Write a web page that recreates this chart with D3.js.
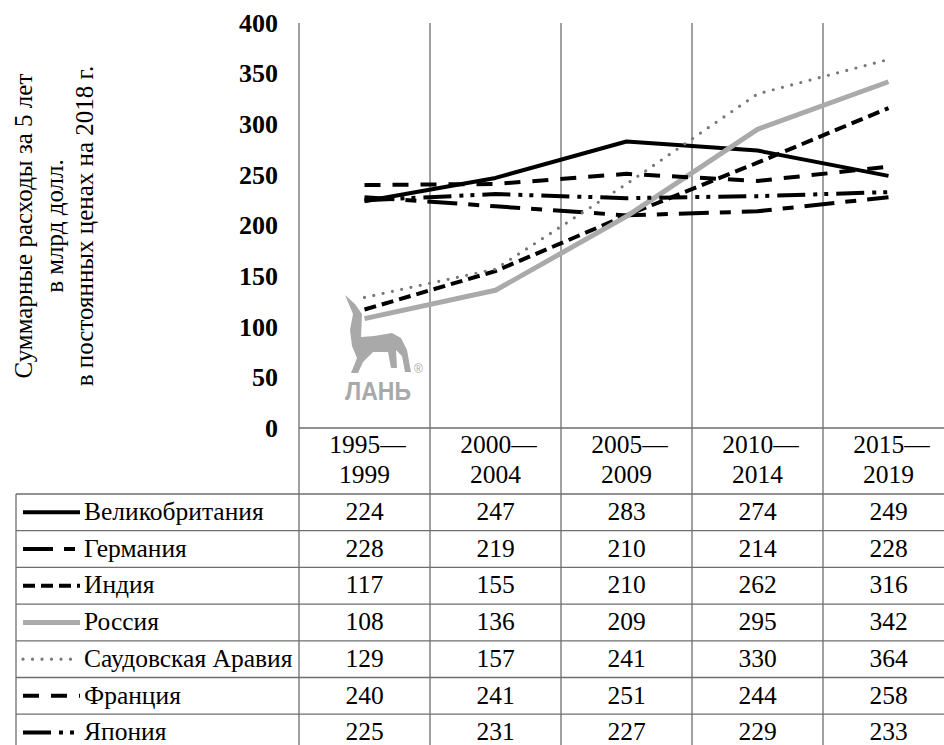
<!DOCTYPE html>
<html>
<head>
<meta charset="utf-8">
<script src="https://cdn.jsdelivr.net/npm/d3@7"></script>
<style>
  body { margin: 0; background: #fff; }
  svg text { font-family: "Liberation Serif", "Times New Roman", serif; }
</style>
</head>
<body>
<div class="chart"></div>
<script>
var svgWidth = 944;
var svgHeight = 745;

// data
var categories = ["1995—1999", "2000—2004", "2005—2009", "2010—2014", "2015—2019"];
var yTicks = [0, 50, 100, 150, 200, 250, 300, 350, 400];
var countryNames = ["Великобритания", "Германия", "Индия", "Россия", "Саудовская Аравия", "Франция", "Япония"];
var ukValues = [224, 247, 283, 274, 249];
var germanyValues = [228, 219, 210, 214, 228];
var indiaValues = [117, 155, 210, 262, 316];
var russiaValues = [108, 136, 209, 295, 342];
var saudiValues = [129, 157, 241, 330, 364];
var franceValues = [240, 241, 251, 244, 258];
var japanValues = [225, 231, 227, 229, 233];

var seriesValues = [ukValues, germanyValues, indiaValues, russiaValues, saudiValues, franceValues, japanValues];

// line styles per country
var styles = [
  { color: "#000", width: 4, dash: null, cap: "butt" },
  { color: "#000", width: 4, dash: "30,11,11,11", cap: "butt" },
  { color: "#000", width: 4, dash: "12,6", cap: "butt" },
  { color: "#aaa", width: 5, dash: null, cap: "butt" },
  { color: "#777", width: 3.2, dash: "0,9.5", cap: "round" },
  { color: "#000", width: 4, dash: "16,12", cap: "butt" },
  { color: "#000", width: 4, dash: "28,8,4,7,4,8", cap: "butt" }
];

var series = countryNames.map(function(name, i) {
  return { name: name, values: seriesValues[i], style: styles[i] };
});

var plotLeft = 299, plotRight = 954, plotTop = 23, plotBottom = 428;
var tableTop = 494, rowH = 36.7, tableLeft = 16;
var serif = "Liberation Serif, Times New Roman, serif";
var fs = 25.5;

var svg = d3.select(".chart")
  .append("svg")
  .attr("width", svgWidth)
  .attr("height", svgHeight)
  .attr("font-family", serif);

var xScale = d3.scaleBand()
  .domain(categories)
  .range([plotLeft, plotRight]);

var yScale = d3.scaleLinear()
  .domain([0, 400])
  .range([plotBottom, plotTop]);

var gridColor = "#6e6e6e";

// vertical grid / table column lines
var colEdges = categories.map(function(c) { return xScale(c); });
svg.append("g").selectAll("line")
  .data(colEdges)
  .enter()
  .append("line")
  .attr("x1", d => d).attr("x2", d => d)
  .attr("y1", plotTop).attr("y2", svgHeight)
  .attr("stroke", gridColor)
  .attr("stroke-width", 1.3);

// horizontal line at 0
svg.append("line")
  .attr("x1", plotLeft).attr("x2", svgWidth)
  .attr("y1", yScale(0)).attr("y2", yScale(0))
  .attr("stroke", gridColor)
  .attr("stroke-width", 1.3);

// table row lines
var rowLines = d3.range(countryNames.length + 1).map(i => tableTop + i * rowH);
svg.append("g").selectAll("line")
  .data(rowLines)
  .enter()
  .append("line")
  .attr("x1", tableLeft).attr("x2", svgWidth)
  .attr("y1", d => d).attr("y2", d => d)
  .attr("stroke", gridColor)
  .attr("stroke-width", 1.3);

svg.append("line")
  .attr("x1", tableLeft).attr("x2", tableLeft)
  .attr("y1", tableTop).attr("y2", svgHeight)
  .attr("stroke", gridColor)
  .attr("stroke-width", 1.3);

// y axis labels
var leftAxis = d3.axisLeft(yScale).tickValues(yTicks).tickSize(0).tickPadding(0);
var yAxisG = svg.append("g")
  .attr("transform", "translate(278,0)")
  .call(leftAxis)
  .attr("font-family", serif)
  .attr("font-size", 26);
yAxisG.select(".domain").remove();
yAxisG.selectAll("text")
  .attr("font-weight", "bold")
  .attr("fill", "#000");

// y axis title
var titleLines = ["Суммарные расходы за 5 лет", "в млрд долл.", "в постоянных ценах на 2018 г."];
var titleX = [23, 54, 84];
svg.append("g").selectAll("text")
  .data(titleLines)
  .enter()
  .append("text")
  .attr("transform", (d, i) => `translate(${titleX[i]}, 226) rotate(-90)`)
  .attr("text-anchor", "middle")
  .attr("dy", "0.35em")
  .attr("font-size", "25px")
  .attr("fill", "#000")
  .text(d => d);

// watermark
var wm = svg.append("g").attr("fill", "#a9a9a9");
wm.append("path")
  .attr("d", "M345,295 L355,304 L362,314 L361,337 L374,336 L392,333 L401,338 L407,350 L411,372 L405,372 L402,356 L396,350 L397,368 L391,368 L388,352 L373,352 L363,362 L358,373 L351,373 L357,358 L352,346 L350,330 L353,314 Z");
wm.append("text")
  .attr("x", 345).attr("y", 400)
  .style("font-family", "'Liberation Sans', Arial, sans-serif")
  .attr("font-weight", "bold")
  .attr("font-size", "26px")
  .attr("textLength", 66)
  .attr("lengthAdjust", "spacingAndGlyphs")
  .text("ЛАНЬ");
wm.append("text")
  .attr("x", 414).attr("y", 373)
  .style("font-family", "'Liberation Sans', Arial, sans-serif")
  .attr("font-size", "12px")
  .text("®");

// lines
var xCenter = d => xScale(d) + xScale.bandwidth() / 2;
var line = d3.line()
  .x((d, i) => xCenter(categories[i]))
  .y(d => yScale(d));

function applyStyle(sel) {
  sel.attr("fill", "none")
    .attr("stroke", d => d.style.color)
    .attr("stroke-width", d => d.style.width)
    .attr("stroke-dasharray", d => d.style.dash)
    .attr("stroke-linecap", d => d.style.cap)
    .attr("stroke-linejoin", "round");
}

svg.append("g").selectAll("path")
  .data(series)
  .enter()
  .append("path")
  .attr("d", d => line(d.values))
  .call(applyStyle);

// category header labels
var header = svg.append("g").selectAll("text")
  .data(categories)
  .enter()
  .append("text")
  .attr("text-anchor", "middle")
  .attr("font-size", fs + "px")
  .attr("fill", "#000");
header.append("tspan")
  .attr("x", d => xCenter(d) + 3)
  .attr("y", 453)
  .text(d => d.split("—")[0] + "—");
header.append("tspan")
  .attr("x", d => xCenter(d))
  .attr("y", 483)
  .text(d => d.split("—")[1]);

// table rows
var rows = svg.append("g").selectAll("g")
  .data(series)
  .enter()
  .append("g")
  .attr("transform", (d, i) => `translate(0, ${tableTop + i * rowH})`);

rows.append("line")
  .attr("x1", 23).attr("x2", 80)
  .attr("y1", rowH / 2).attr("y2", rowH / 2)
  .call(applyStyle);

rows.append("text")
  .attr("x", 84)
  .attr("y", 26)
  .attr("font-size", fs + "px")
  .attr("fill", "#000")
  .text(d => d.name);

rows.selectAll(".val")
  .data(d => d.values)
  .enter()
  .append("text")
  .attr("class", "val")
  .attr("x", (d, i) => xCenter(categories[i]))
  .attr("y", 26)
  .attr("text-anchor", "middle")
  .attr("font-size", fs + "px")
  .attr("fill", "#000")
  .text(d => d);
</script>
</body>
</html>
